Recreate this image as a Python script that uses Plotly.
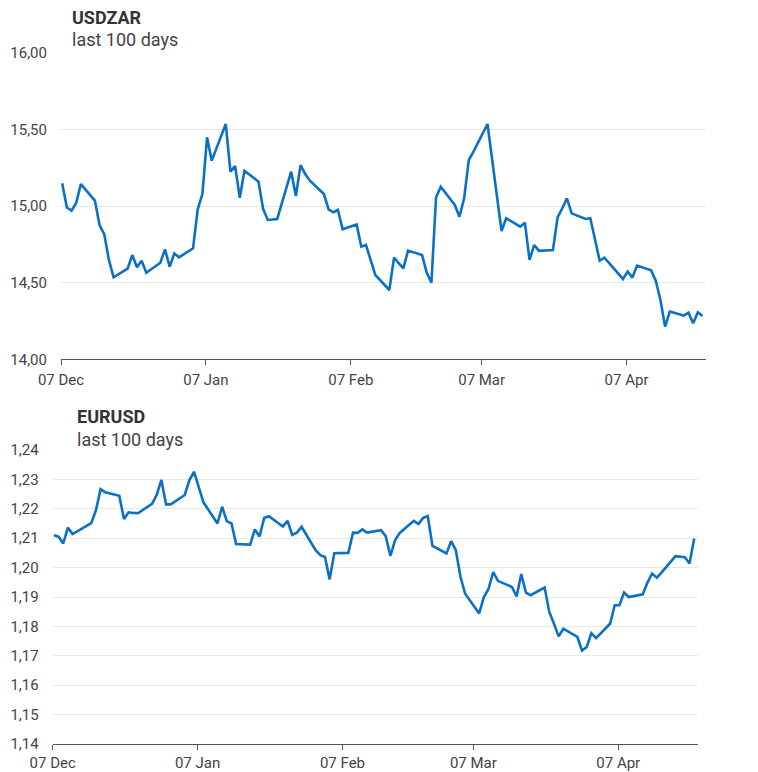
import pandas as pd
import plotly.graph_objects as go

# 100 trading days (weekdays) from 07 Dec 2020 to 23 Apr 2021
dates = pd.bdate_range("2020-12-07", periods=100) + pd.Timedelta(hours=6)

usdzar = [
    15.148, 14.99, 14.97, 15.02, 15.143,
    15.035, 14.876, 14.817, 14.648, 14.535,
    14.591, 14.68, 14.60, 14.643, 14.565,
    14.63, 14.717, 14.604, 14.691, 14.665,
    14.724, 14.978, 15.078, 15.448, 15.296,
    15.535, 15.224, 15.261, 15.054, 15.23,
    15.159, 14.98, 14.909, 14.913, 14.915,
    15.224, 15.065, 15.267, 15.209, 15.165,
    15.078, 14.978, 14.959, 14.974, 14.848,
    14.88, 14.735, 14.746, 14.648, 14.55,
    14.452, 14.663, 14.628, 14.593, 14.709,
    14.68, 14.565, 14.50, 15.057, 15.126,
    15.007, 14.93, 15.05, 15.30, 15.355,
    15.535, 15.302, 15.07, 14.837, 14.92,
    14.865, 14.891, 14.648, 14.746, 14.707,
    14.713, 14.926, 14.985, 15.05, 14.952,
    14.915, 14.92, 14.778, 14.643, 14.663,
    14.557, 14.524, 14.572, 14.533, 14.611,
    14.58, 14.513, 14.387, 14.213, 14.311,
    14.285, 14.304, 14.235, 14.307, 14.283,
]

eurusd = [
    1.2110, 1.2105, 1.2082, 1.2136, 1.2114,
    1.2140, 1.2151, 1.2195, 1.2267, 1.2256,
    1.2244, 1.2165, 1.2188, 1.2186, 1.2185,
    1.2217, 1.2247, 1.2298, 1.2215, 1.2215,
    1.2247, 1.2298, 1.2326, 1.2274, 1.2222,
    1.2150, 1.2207, 1.2158, 1.2150, 1.2080,
    1.2078, 1.2130, 1.2106, 1.2169, 1.2175,
    1.2140, 1.2159, 1.2111, 1.2119, 1.2139,
    1.2059, 1.2042, 1.2036, 1.1960, 1.2049,
    1.2050, 1.2119, 1.2118, 1.2130, 1.2119,
    1.2127, 1.2107, 1.2040, 1.2093, 1.2118,
    1.2159, 1.2148, 1.2169, 1.2175, 1.2074,
    1.2048, 1.2090, 1.2059, 1.1968, 1.1911,
    1.1844, 1.1900, 1.1928, 1.1985, 1.1955,
    1.1934, 1.1902, 1.1978, 1.1915, 1.1906,
    1.1932, 1.1849, 1.1809, 1.1766, 1.1792,
    1.1764, 1.1718, 1.1730, 1.1777, 1.1760,
    1.1809, 1.1872, 1.1872, 1.1915, 1.1900,
    1.1909, 1.1949, 1.1980, 1.1966, 1.1983,
    1.2039, 1.2038, 1.2035, 1.2014, 1.2099,
]

tick_dates = ["2020-12-07", "2021-01-07", "2021-02-07", "2021-03-07", "2021-04-07"]
tick_text = ["07 Dec", "07 Jan", "07 Feb", "07 Mar", "07 Apr"]

titles = ["USDZAR", "EURUSD"]
subtitle = "last 100 days"

# the page body adds an 8px margin, so the figure is placed at (8, 8)
OFF = 8
W, H = 758 - OFF, 772 - OFF
LINE = "#0a71c7"
GRID = "#e9e7e2"
AX = "#555555"
TXT = "#444444"
FONT = "Roboto"


def px(x):
    return (x - OFF) / W


def py(y):
    return 1 - (y - OFF) / H


fig = go.Figure()
fig.add_trace(go.Scatter(x=dates, y=usdzar, mode="lines", xaxis="x", yaxis="y",
                         line=dict(color=LINE, width=2.6), showlegend=False))
fig.add_trace(go.Scatter(x=dates, y=eurusd, mode="lines", xaxis="x2", yaxis="y2",
                         line=dict(color=LINE, width=2.6), showlegend=False))

xrange_ = ["2020-12-07", "2021-04-24"]
common_x = dict(type="date", range=xrange_, tickvals=tick_dates, ticktext=tick_text,
                showgrid=False, showline=True, linecolor=AX, linewidth=1,
                ticks="outside", ticklen=5, tickcolor=AX, tickwidth=1,
                tickfont=dict(family=FONT, size=15, color=TXT), zeroline=False,
                automargin=False, fixedrange=True)
common_y = dict(showgrid=True, gridcolor=GRID, gridwidth=1, showline=False,
                ticks="", tickfont=dict(family=FONT, size=15, color=TXT),
                zeroline=False, automargin=False, ticklabelstandoff=13)

fig.update_layout(
    width=W, height=H,
    margin=dict(l=0, r=0, t=0, b=0),
    paper_bgcolor="white", plot_bgcolor="white",
    separators=", ",
    font=dict(family=FONT, color=TXT),
    xaxis=dict(domain=[px(61), px(706)], anchor="y", ticklabelstandoff=2, **common_x),
    yaxis=dict(domain=[py(359.3), py(52.7)], anchor="x", range=[14, 16], dtick=0.5,
               tickformat=".2f", **common_y),
    xaxis2=dict(domain=[px(52.7), px(697.7)], anchor="y2", ticklabelstandoff=0, **common_x),
    yaxis2=dict(domain=[py(744), py(450)], anchor="x2", range=[1.14, 1.24], dtick=0.01,
                tickformat=".2f", **common_y),
)

ann = [
    (titles[0], 71.7, 17.8, True),
    (subtitle, 71.7, 39.9, False),
    (titles[1], 77.0, 416.2, True),
    (subtitle, 77.0, 439.5, False),
]
for text, x, y, bold in ann:
    fig.add_annotation(
        text=f"<b>{text}</b>" if bold else text,
        xref="paper", yref="paper", x=px(x), y=py(y),
        xanchor="left", yanchor="middle", showarrow=False,
        font=dict(family=FONT, size=18, color="#333333" if bold else TXT),
        xshift=-2,
    )

fig.write_html("out.html")
